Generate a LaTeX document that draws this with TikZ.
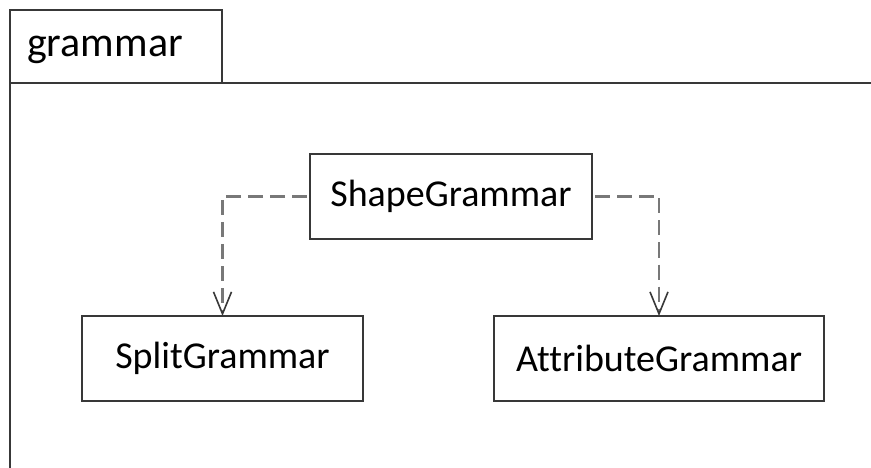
\documentclass[tikz,border=0pt]{standalone}
\usepackage{fontspec}
\setmainfont{Carlito}[Ligatures={NoCommon}]
\usetikzlibrary{arrows.meta}
\definecolor{edge}{HTML}{383838}
\definecolor{dep}{HTML}{787878}
\tikzset{
  classbox/.style={draw=edge, line width=1.8pt, fill=white, inner sep=0pt, outer sep=0pt,
    minimum height=85pt, font=\fontsize{38}{44}\selectfont},
  frameline/.style={draw=edge, line width=1.8pt},
  depend/.style={draw=dep, line width=2.4pt, dash pattern=on 15pt off 7pt, dash phase=-3pt,
    -{Straight Barb[length=22pt,width=18pt,line width=1.6pt,color=edge]}}
}
\begin{document}
\begin{tikzpicture}[x=1pt,y=-1pt]
  \useasboundingbox (0,0) rectangle (871,468);
  % package frame with its name tab
  \draw[frameline] (10,83) rectangle (222,10);
  \draw[frameline] (10,468) -- (10,83) -- (871,83);
  \node[anchor=base west, inner sep=0pt, font=\fontsize{42}{48}\selectfont] (pkg) at (27,57) {grammar};
  % classes
  \node[classbox, minimum width=282pt] (shape) at (451,196.5) {ShapeGrammar};
  \node[classbox, minimum width=281pt] (split) at (222.5,358.5) {SplitGrammar};
  \node[classbox, minimum width=330pt] (attr) at (659,358.5) {AttributeGrammar};
  % dependencies
  \draw[depend] (shape.west) -| (split.north);
  \draw[depend] (shape.east) -| (attr.north);
\end{tikzpicture}
\end{document}
